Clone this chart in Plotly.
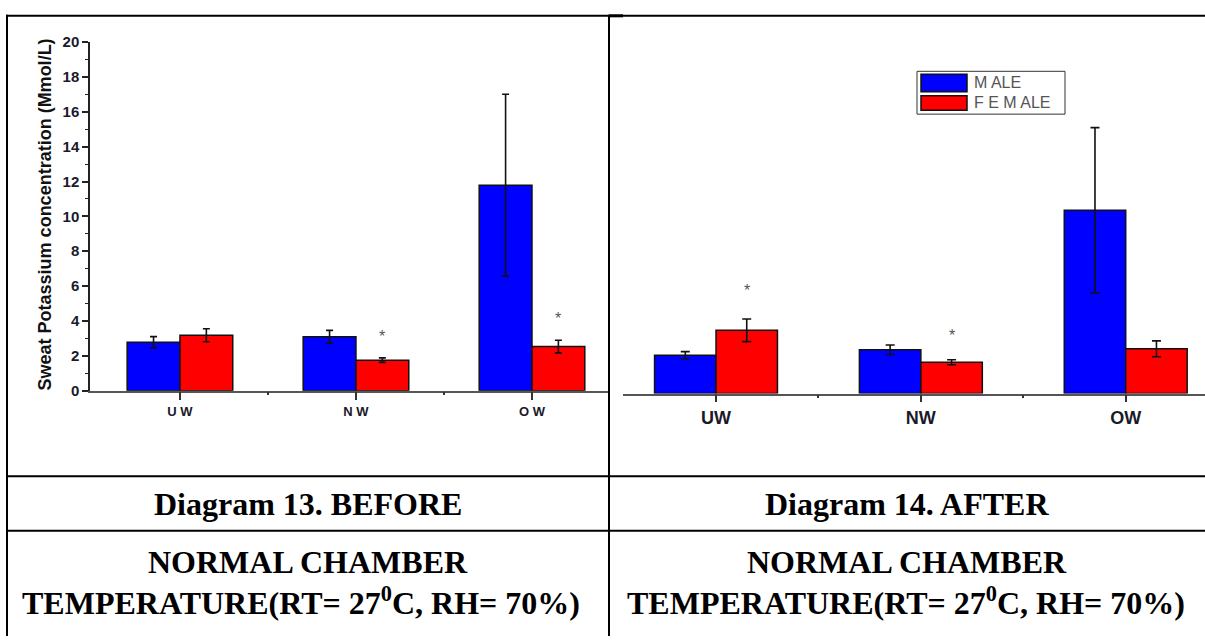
import plotly.graph_objects as go

W, H = 1205, 644

categories = ["UW", "NW", "OW"]
ticktext_before = ["U W", "N W", "O W"]
ticktext_after = ["UW", "NW", "OW"]

before_male = [2.78, 3.09, 11.79]
before_male_err = [0.32, 0.37, 5.22]
before_female = [3.18, 1.75, 2.53]
before_female_err = [0.37, 0.13, 0.36]

after_male = [2.03, 2.32, 9.71]
after_male_err = [0.19, 0.25, 4.37]
after_female = [3.35, 1.66, 2.37]
after_female_err = [0.60, 0.13, 0.42]

# significance markers (category index, value)
before_stars = [(1, 3.09), (2, 4.15)]
after_stars = [(0, 5.48), (1, 3.09)]

y_ticks = list(range(0, 21, 2))

def px(x):
    return x / W

def py(y):
    return 1 - y / H

xpos = list(range(len(categories)))

fig = go.Figure()

def add_bars(xa, ya, male, male_err, female, female_err, capw):
    fig.add_trace(go.Bar(
        x=xpos, y=male, name="MALE", xaxis=xa, yaxis=ya,
        marker=dict(color="#0000FF", line=dict(color="#111111", width=1.5)),
        error_y=dict(type="data", array=male_err, color="#111111", thickness=1.6, width=capw),
        showlegend=False, offsetgroup="m"))
    fig.add_trace(go.Bar(
        x=xpos, y=female, name="FEMALE", xaxis=xa, yaxis=ya,
        marker=dict(color="#FF0000", line=dict(color="#111111", width=1.5)),
        error_y=dict(type="data", array=female_err, color="#111111", thickness=1.6, width=capw),
        showlegend=False, offsetgroup="f"))

add_bars("x", "y", before_male, before_male_err, before_female, before_female_err, 3.5)
add_bars("x2", "y2", after_male, after_male_err, after_female, after_female_err, 4.5)

sans = "Liberation Sans, Arial"

fig.update_layout(
    width=W, height=H,
    margin=dict(l=0, r=0, t=0, b=0),
    paper_bgcolor="white", plot_bgcolor="white",
    barmode="group", bargap=0.4, bargroupgap=0,
    showlegend=False,
    xaxis=dict(
        domain=[px(90), px(609)], range=[-0.511, 2.4375],
        tickvals=xpos, ticktext=ticktext_before,
        ticks="outside", ticklen=8, tickwidth=1.5, tickcolor="#333",
        minor=dict(tickvals=[0.5, 1.5], ticks="outside", ticklen=3, tickwidth=1.5, tickcolor="#333"),
        showline=True, linecolor="#555", linewidth=1.5,
        showgrid=False, zeroline=False,
        tickfont=dict(family=sans, size=13, color="#1a1a2a", weight="bold"),
        anchor="y", fixedrange=True),
    yaxis=dict(
        domain=[py(392), py(34)], range=[0, 20],
        tickvals=y_ticks, ticks="outside", ticklen=6, tickwidth=1.5, tickcolor="#222",
        minor=dict(dtick=1, ticks="outside", ticklen=3, tickwidth=1.2, tickcolor="#222"),
        showline=True, linecolor="#222", linewidth=1.5,
        showgrid=False, zeroline=False,
        tickfont=dict(family=sans, size=15, color="#1a1a2a", weight="bold"),
        anchor="x", fixedrange=True),
    xaxis2=dict(
        domain=[px(623), 1.0], range=[-0.454, 2.387],
        tickvals=xpos, ticktext=ticktext_after,
        ticks="outside", ticklen=7, tickwidth=1.5, tickcolor="#333",
        minor=dict(tickvals=[0.5, 1.5], ticks="outside", ticklen=3, tickwidth=1.5, tickcolor="#333"),
        showline=True, linecolor="#555", linewidth=1.5,
        showgrid=False, zeroline=False,
        tickfont=dict(family=sans, size=18, color="#1a1a2a", weight="bold"),
        anchor="y2", fixedrange=True),
    yaxis2=dict(
        domain=[py(395), py(7)], range=[0, 20],
        visible=False, showgrid=False, zeroline=False,
        anchor="x2", fixedrange=True),
)

annotations = []
# axis title
annotations.append(dict(
    x=px(45), y=py(211), xref="paper", yref="paper",
    text="Sweat Potassium concentration (Mmol/L)", textangle=-90,
    showarrow=False, xanchor="center", yanchor="middle",
    font=dict(family=sans, size=18, color="#111", weight="bold")))

for (i, v) in before_stars:
    annotations.append(dict(x=i + 0.15, y=v, xref="x", yref="y", text="*",
                            showarrow=False, yanchor="middle",
                            font=dict(family=sans, size=16, color="#555")))
for (i, v) in after_stars:
    annotations.append(dict(x=i + 0.15, y=v, xref="x2", yref="y2", text="*",
                            showarrow=False, yanchor="middle",
                            font=dict(family=sans, size=16, color="#555")))

# legend (drawn)
legend_items = [("M ALE", "#0000FF", 67, 85, 76), ("F E M ALE", "#FF0000", 89, 104, 96)]
shapes = []
shapes.append(dict(type="rect", xref="paper", yref="paper",
                   x0=px(917), x1=px(1065), y0=py(108), y1=py(64),
                   line=dict(color="#333", width=1), fillcolor="white"))
for label, col, t, b, ty in legend_items:
    shapes.append(dict(type="rect", xref="paper", yref="paper",
                       x0=px(921), x1=px(967), y0=py(b), y1=py(t),
                       line=dict(color="#111", width=1.5), fillcolor=col))
    annotations.append(dict(x=px(972), y=py(ty), xref="paper", yref="paper",
                            text=label, showarrow=False, xanchor="left", yanchor="middle",
                            font=dict(family=sans, size=16, color="#555")))

# table lines
def hline(y, x0, x1, w=2):
    shapes.append(dict(type="line", xref="paper", yref="paper",
                       x0=px(x0), x1=px(x1), y0=py(y), y1=py(y),
                       line=dict(color="black", width=w)))

def vline(x, y0, y1, w=2):
    shapes.append(dict(type="line", xref="paper", yref="paper",
                       x0=px(x), x1=px(x), y0=py(y0), y1=py(y1),
                       line=dict(color="black", width=w)))

hline(7, 6, 1205)
hline(7, 609, 623, 3)
vline(7, 6, 644)
vline(609, 6, 644)
hline(480, 6, 1205)
hline(536, 6, 1205)

# cell texts
serif = dict(family="Liberation Serif, Times New Roman", size=32, color="black", weight="bold")
cells = [
    (308, 508, "Diagram 13. BEFORE"),
    (907, 508, "Diagram 14. AFTER"),
    (308, 568, "NORMAL CHAMBER"),
    (907, 568, "NORMAL CHAMBER"),
    (301, 608, "TEMPERATURE(RT= 27<sup>0</sup>C, RH= 70%)"),
    (906, 608, "TEMPERATURE(RT= 27<sup>0</sup>C, RH= 70%)"),
]
for cx, cy, t in cells:
    annotations.append(dict(x=px(cx), y=py(cy), xref="paper", yref="paper", text=t,
                            showarrow=False, xanchor="center", yanchor="middle", font=serif))

fig.update_layout(annotations=annotations, shapes=shapes)

post = """
var de=document.documentElement, b=document.body;
de.style.margin='0'; de.style.padding='0'; de.style.overflow='hidden'; de.style.height='644px';
b.style.margin='0'; b.style.padding='0'; b.style.overflow='hidden'; b.style.height='644px';
var d=document.getElementsByClassName('plotly-graph-div')[0];
d.style.position='absolute'; d.style.top='0px'; d.style.left='0px';
"""

fig.write_html(
    "out.html",
    config={"displayModeBar": False},
    post_script=post,
)
